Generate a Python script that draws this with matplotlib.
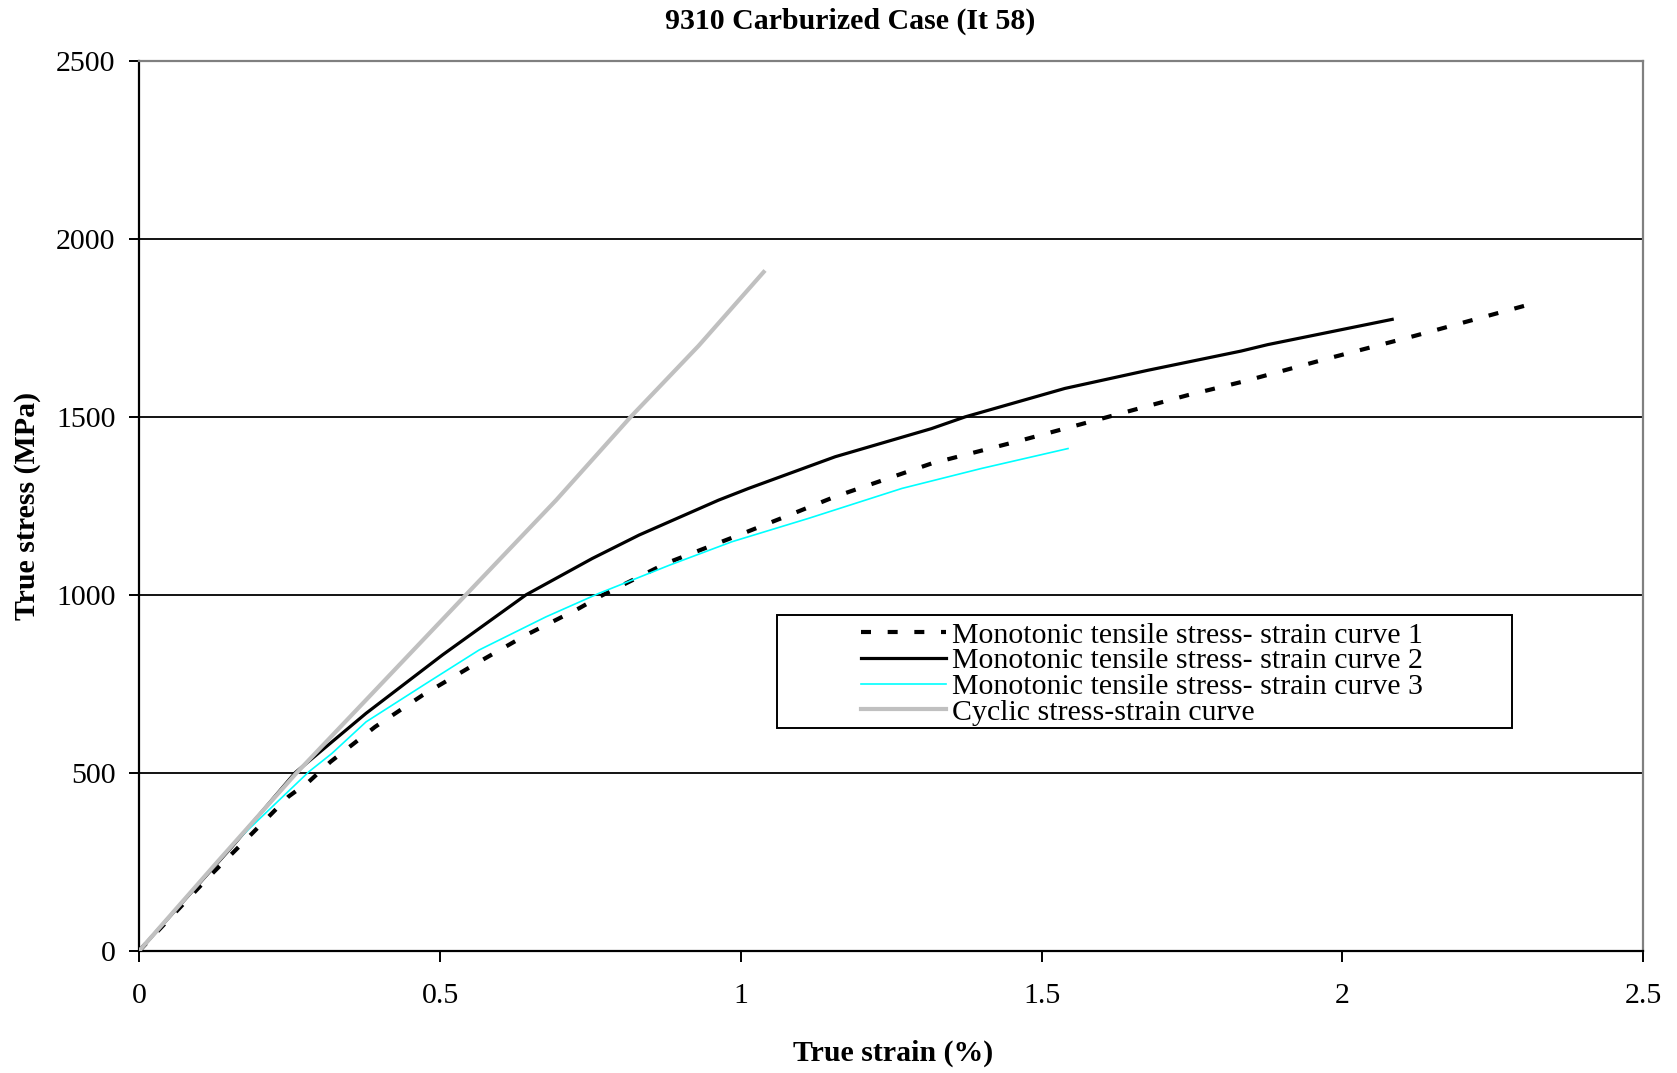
import matplotlib
matplotlib.use("Agg")
import matplotlib.pyplot as plt
from matplotlib.patches import Rectangle

# ---- data ----
strain1 = [0, 0.116, 0.182, 0.248, 0.282, 0.318, 0.392, 0.471, 0.560, 0.643, 0.731, 0.770,
           0.875, 0.997, 1.085, 1.157, 1.317, 1.464, 1.602, 1.743, 1.837, 1.976, 2.119, 2.307]
stress1 = [0, 208, 320, 433, 475, 531, 629, 718, 807, 887, 962, 999,
           1088, 1168, 1227, 1276, 1369, 1433, 1496, 1561, 1600, 1664, 1727, 1814]

strain2 = [0, 0.154, 0.259, 0.377, 0.504, 0.643, 0.753, 0.831, 0.963, 1.013, 1.157, 1.317,
           1.373, 1.539, 1.677, 1.832, 1.876, 2.083]
stress2 = [0, 292, 500, 667, 831, 1000, 1102, 1168, 1266, 1299, 1388, 1467,
           1500, 1580, 1631, 1685, 1703, 1774]

strain3 = [0, 0.15, 0.282, 0.320, 0.377, 0.477, 0.565, 0.676, 0.764, 0.881, 0.985, 1.113,
           1.268, 1.400, 1.544]
stress3 = [0, 290, 503, 554, 643, 751, 845, 938, 1004, 1083, 1149, 1215,
           1299, 1355, 1411]

strain_c = [0, 0.13, 0.259, 0.38, 0.543, 0.693, 0.817, 0.93, 1.038]
stress_c = [0, 250, 495, 710, 1000, 1266, 1500, 1700, 1907]

labels = ["Monotonic tensile stress- strain curve 1",
          "Monotonic tensile stress- strain curve 2",
          "Monotonic tensile stress- strain curve 3",
          "Cyclic stress-strain curve"]
xticks = [0, 0.5, 1, 1.5, 2, 2.5]
xticklabels = ["0", "0.5", "1", "1.5", "2", "2.5"]
yticks = [0, 500, 1000, 1500, 2000, 2500]

title = "9310 Carburized Case (It 58)"
xlabel = "True strain (%)"
ylabel = "True stress (MPa)"

# ---- figure ----
plt.rcParams['font.family'] = ['Liberation Serif', 'DejaVu Serif']
FS = 21.5
W, H = 1677, 1073
fig = plt.figure(figsize=(W / 100, H / 100), dpi=100)
ax = fig.add_axes([139.3 / W, (H - 950.7) / H, (1643 - 139.3) / W, (950.7 - 61) / H])

for y in yticks[1:-1]:
    ax.axhline(y, color='black', lw=1.3, zorder=1)

l1, = ax.plot(strain1, stress1, color='black', lw=3.0, linestyle=(0, (2.4, 4.0)),
              dash_capstyle='butt', zorder=3, label=labels[0])
l2, = ax.plot(strain2, stress2, color='black', lw=2.3, zorder=3, label=labels[1])
l3, = ax.plot(strain3, stress3, color='#00FFFF', lw=1.2, zorder=3, label=labels[2])
l4, = ax.plot(strain_c, stress_c, color='#C0C0C0', lw=3.0, zorder=4, label=labels[3])

ax.set_xlim(0, 2.5)
ax.set_ylim(0, 2500)
ax.set_xticks(xticks)
ax.set_xticklabels(xticklabels)
ax.set_yticks(yticks)

for s in ['left', 'bottom']:
    ax.spines[s].set_color('black')
    ax.spines[s].set_linewidth(1.6)
for s in ['top', 'right']:
    ax.spines[s].set_color('#808080')
    ax.spines[s].set_linewidth(1.6)

ax.tick_params(axis='y', direction='out', length=7, width=1.4, pad=10, labelsize=FS)
ax.tick_params(axis='x', direction='out', length=8, width=1.4, pad=15, labelsize=FS)

fig.text(850 / W, 1 - 21 / H, title, ha='center', va='center',
         fontsize=FS, fontweight='bold')
fig.text(893 / W, 1 - 1053 / H, xlabel, ha='center', va='center',
         fontsize=FS, fontweight='bold')
fig.text(28 / W, 1 - 505.5 / H, ylabel, ha='center', va='center',
         fontsize=FS, fontweight='bold', rotation=90)

# legend box (frame drawn separately, Excel-style)
fig.patches.append(Rectangle((776.5 / W, 1 - 728 / H), (1512 - 776.5) / W, (728 - 615) / H,
                             transform=fig.transFigure, fill=False,
                             edgecolor='black', lw=1.4, zorder=5))
leg = ax.legend(handles=[l1, l2, l3, l4], loc='upper left',
                bbox_to_anchor=(861 / W, 1 - 622 / H), bbox_transform=fig.transFigure,
                frameon=False, fontsize=FS, handlelength=2.86, handletextpad=0.2,
                labelspacing=-0.045, borderpad=0.0, borderaxespad=0)

fig.savefig("out.png", dpi=100)
